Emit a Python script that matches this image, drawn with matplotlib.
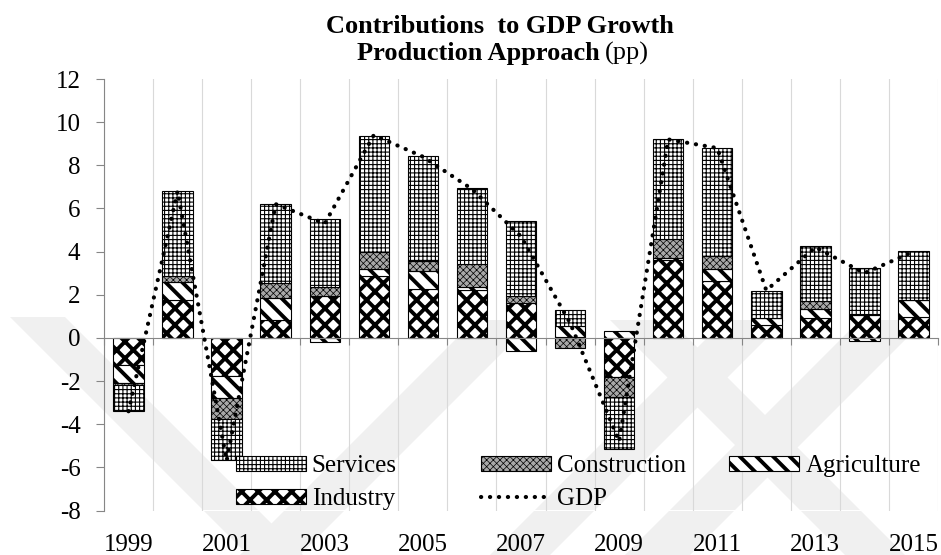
import numpy as np
import matplotlib
matplotlib.use("Agg")
import matplotlib.pyplot as plt
from matplotlib.patches import Polygon
from matplotlib.ticker import FixedLocator

plt.rcParams["font.family"] = ["Liberation Serif", "DejaVu Serif"]
plt.rcParams["axes.unicode_minus"] = False

# contributions to GDP growth, percentage points
years = list(range(1999, 2016))
industry = [-1.25, 1.76, -1.76, 0.83, 1.95, 2.85, 2.27, 2.23, 1.61, 0.02,
            -1.82, 3.62, 2.64, 0.60, 0.91, 1.07, 0.99]
agriculture = [-0.85, 0.85, -1.04, 1.04, -0.17, 0.34, 0.85, 0.12, -0.60, 0.53,
               0.34, 0.10, 0.56, 0.34, 0.42, -0.15, 0.77]
construction = [-0.10, 0.27, -0.97, 0.67, 0.40, 0.78, 0.45, 1.07, 0.31, -0.48,
                -0.93, 0.87, 0.60, 0.00, 0.36, 0.03, 0.00]
services = [-1.17, 3.95, -1.89, 3.66, 3.17, 5.41, 4.87, 3.52, 3.48, 0.72,
            -2.40, 4.62, 5.00, 1.25, 2.55, 2.16, 2.27]
gdp = [-3.4, 6.8, -5.7, 6.2, 5.3, 9.4, 8.4, 6.9, 4.7, 0.7,
       -4.8, 9.2, 8.8, 2.2, 4.2, 3.0, 4.0]

W, H = 941, 555
AXIS_GREY = "#868686"
FS = 18


def fx(px):
    return px / W


def fy(py):
    return 1 - py / H


fig = plt.figure(figsize=(W / 100, H / 100), dpi=100)

# faint diagonal watermark bands behind the chart
bands = [
    [(10, 317), (65, 317), (303, 555), (248, 555)],
    [(240, 555), (300, 555), (535, 320), (475, 320)],
    [(490, 555), (550, 555), (785, 320), (725, 320)],
    [(610, 320), (670, 320), (905, 555), (845, 555)],
    [(625, 555), (690, 555), (925, 320), (860, 320)],
]
for pts in bands:
    fig.patches.append(Polygon([(fx(a), fy(b)) for a, b in pts], closed=True,
                               transform=fig.transFigure, facecolor="#f0f0f0",
                               edgecolor="none", zorder=-1))

ax = fig.add_axes([fx(104), fy(510.5), fx(938 - 104), (510.5 - 79) / H])
ax.set_facecolor("none")

x = np.arange(len(years))
styles = {
    "Industry": dict(fc="white", hatch="xx", hlw=2.8),
    "Agriculture": dict(fc="white", hatch="\\\\", hlw=2.8),
    "Construction": dict(fc="#a8a8a8", hatch="xxxxx", hlw=0.5),
    "Services": dict(fc="white", hatch="++++", hlw=0.8),
}
series = [("Industry", industry), ("Agriculture", agriculture),
          ("Construction", construction), ("Services", services)]

handles = {}
pos_base = np.zeros(len(x))
neg_base = np.zeros(len(x))
for name, vals in series:
    v = np.asarray(vals, dtype=float)
    st = styles[name]
    bottom = np.where(v >= 0, pos_base, neg_base)
    # hatch width is taken from rcParams when the bars are created
    with plt.rc_context({"hatch.linewidth": st["hlw"]}):
        bars = ax.bar(x, v, 0.62, bottom=bottom, facecolor=st["fc"],
                      edgecolor="black", hatch=st["hatch"], linewidth=0.8,
                      zorder=2, label=name)
    handles[name] = bars
    pos_base += np.where(v > 0, v, 0)
    neg_base += np.where(v < 0, v, 0)

gdp_line, = ax.plot(x, gdp, color="black", lw=3.0,
                    linestyle=(0, (0.05, 2.1)), dash_capstyle="round",
                    zorder=3, label="GDP")

ax.set_xlim(-0.5, 16.5)
ax.set_ylim(-8, 12)
ax.set_yticks(np.arange(-8, 13, 2))
ax.tick_params(axis="y", direction="out", length=6, width=0.8,
               color=AXIS_GREY, pad=11, labelsize=FS)
for s in ("top", "right"):
    ax.spines[s].set_visible(False)
ax.spines["left"].set_color(AXIS_GREY)
ax.spines["bottom"].set_position(("data", 0))
ax.spines["bottom"].set_color(AXIS_GREY)
ax.xaxis.set_major_locator(FixedLocator(np.arange(-0.5, 17, 1)))
ax.tick_params(axis="x", direction="out", length=5, width=0.8,
               color=AXIS_GREY, labelbottom=False)
ax.grid(axis="x", color="#d9d9d9", lw=0.8)
ax.set_axisbelow(True)

# year labels sit at the bottom of the plot, not on the zero line
sec = ax.secondary_xaxis(0)
sec.set_xticks(x[::2], [str(y) for y in years[::2]])
sec.tick_params(length=0, pad=17, labelsize=FS)
sec.spines["bottom"].set_visible(False)

# title
fig.text(fx(500), fy(33), "Contributions  to GDP Growth", ha="center",
         va="baseline", fontsize=19, fontweight="bold")
fig.text(fx(600), fy(60), "Production Approach", ha="right",
         va="baseline", fontsize=19, fontweight="bold")
fig.text(fx(605), fy(60), "(pp)", ha="left", va="baseline", fontsize=19)

# legend laid out in three fixed columns
leg_kw = dict(loc="upper left", frameon=False, borderpad=0, borderaxespad=0,
              handlelength=2.8, handleheight=0.55, handletextpad=0.25,
              labelspacing=0.45, fontsize=FS)
cols = [
    (235.5, [handles["Services"], handles["Industry"]], ["Services", "Industry"]),
    (481, [handles["Construction"], gdp_line], ["Construction", "GDP"]),
    (729, [handles["Agriculture"]], ["Agriculture"]),
]
for x0, hs, labs in cols:
    leg = fig.legend(hs, labs, bbox_to_anchor=(fx(x0), fy(455)), **leg_kw)
    for h, lab in zip(leg.legend_handles, labs):
        if lab in styles and hasattr(h, "set_hatch_linewidth"):
            h.set_hatch_linewidth(styles[lab]["hlw"])

fig.savefig("out.png", dpi=100)
